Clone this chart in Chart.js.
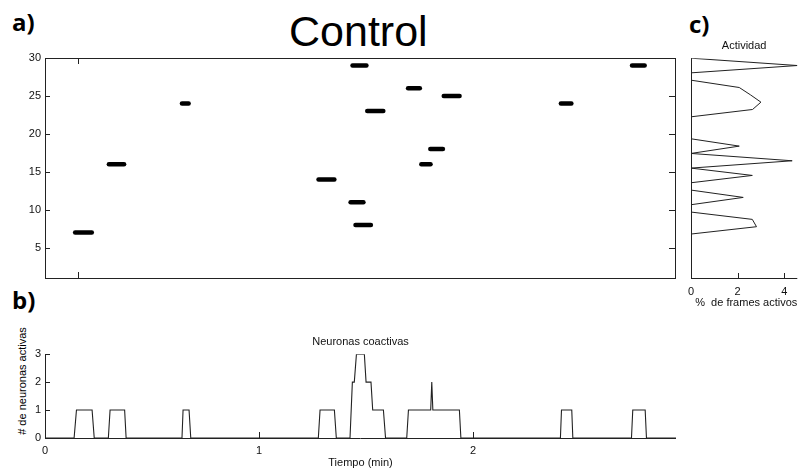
<!DOCTYPE html>
<html>
<head>
<meta charset="utf-8">
<script src="https://cdn.jsdelivr.net/npm/chart.js@4.4.1/dist/chart.umd.min.js"></script>
<style>
  body { margin: 0; background: #fff; }
  #wrap { position: relative; width: 809px; height: 470px; overflow: hidden; font-family: "Liberation Sans", Arial, sans-serif; color: #000; }
  #wrap canvas { position: absolute; }
  .lbl { position: absolute; white-space: nowrap; }
  .panel { font-family: "Open Sans", sans-serif; font-weight: bold; font-size: 24px; line-height: 24px; }
</style>
</head>
<body>
<div id="wrap">
  <div class="lbl panel" style="left:12px; top:10px;">a)</div>
  <div class="lbl panel" style="left:12px; top:288px;">b)</div>
  <div class="lbl panel" style="left:689px; top:12px;">c)</div>
  <div class="lbl" style="left:289px; top:10px; font-size:43px; line-height:43px;">Control</div>
  <div class="lbl" style="left:22px; top:381px; font-size:11px; line-height:11px; transform: translate(-50%,-50%) rotate(-90deg);"># de neuronas activas</div>

  <canvas id="rasterChart" width="690" height="290" style="left:0; top:0;"></canvas>
  <canvas id="coactChart" width="690" height="180" style="left:0; top:290px;"></canvas>
  <canvas id="activityChart" width="129" height="310" style="left:680px; top:0;"></canvas>
</div>

<script>
// a) raster: one bar per activation (neuron, start, end in minutes)
const spikeNeuron = [7, 16, 24, 14, 29, 11, 8, 23, 26, 25, 18, 16, 24, 29];
const spikeStart = [0.141, 0.299, 0.641, 1.280, 1.439, 1.430, 1.453, 1.508, 1.699, 1.866, 1.803, 1.761, 2.414, 2.747];
const spikeEnd   = [0.219, 0.370, 0.672, 1.354, 1.504, 1.490, 1.525, 1.583, 1.754, 1.940, 1.862, 1.804, 2.463, 2.806];
const rasterYTicks = [5, 10, 15, 20, 25, 30];
const rasterXTicks = [0.155];

// b) number of coactive neurons over time
const timeMin = [0, 0.136, 0.147, 0.220, 0.230, 0.296, 0.304, 0.372, 0.379, 0.640, 0.645, 0.673, 0.681,
  1.277, 1.285, 1.352, 1.361, 1.425, 1.436, 1.445, 1.455, 1.492, 1.500, 1.523, 1.531, 1.581, 1.591,
  1.690, 1.698, 1.802, 1.807, 1.812, 1.936, 1.943, 2.408, 2.413, 2.461, 2.466, 2.740, 2.746, 2.804, 2.810, 2.948];
const coactive = [0, 0, 1, 1, 0, 0, 1, 1, 0, 0, 1, 1, 0,
  0, 1, 1, 0, 0, 2, 2, 3, 3, 2, 2, 1, 1, 0,
  0, 1, 1, 2, 1, 1, 0, 0, 1, 1, 0, 0, 1, 1, 0, 0];
const timeTicks = [0, 1, 2];
const coactTicks = [0, 1, 2, 3];

// c) % of active frames per neuron
const neuronIds = [1, 2, 3, 4, 5, 6, 7, 8, 9, 10, 11, 12, 13, 14, 15, 16, 17, 18, 19, 20, 21, 22, 23, 24, 25, 26, 27, 28, 29, 30];
const activityPct = [0, 0, 0, 0, 0, 0, 2.81, 2.63, 0, 0, 2.24, 0, 0, 2.63, 0, 4.34, 0, 2.07, 0, 0, 0, 0, 2.64, 3.0, 2.55, 2.07, 0, 0, 4.56, 0];
const pctTicks = [0, 2, 4];

const TXT = '#111';
const LINE = '#222';
const tickFont = { family: 'Liberation Sans', size: 11 };

// frame lines + inward tick marks, matlab style
function axesDecor(sides, inTicks) {
  return {
    id: 'axesDecor',
    afterDatasetsDraw(chart) {
      const { ctx, chartArea: a, scales } = chart;
      ctx.save();
      ctx.strokeStyle = LINE;
      ctx.lineWidth = 1;
      ctx.beginPath();
      if (sides.includes('top')) { ctx.moveTo(a.left, a.top + 0.5); ctx.lineTo(a.right, a.top + 0.5); }
      if (sides.includes('bottom')) { ctx.moveTo(a.left, a.bottom + 0.5); ctx.lineTo(a.right, a.bottom + 0.5); }
      if (sides.includes('left')) { ctx.moveTo(a.left + 0.5, a.top); ctx.lineTo(a.left + 0.5, a.bottom + 1); }
      if (sides.includes('right')) { ctx.moveTo(a.right + 0.5, a.top); ctx.lineTo(a.right + 0.5, a.bottom + 1); }
      inTicks.forEach(t => {
        const s = scales[t.axis];
        t.values.forEach(v => {
          const p = Math.round(s.getPixelForValue(v)) + 0.5;
          if (t.side === 'bottom') { ctx.moveTo(p, a.bottom); ctx.lineTo(p, a.bottom - t.len); }
          if (t.side === 'top') { ctx.moveTo(p, a.top); ctx.lineTo(p, a.top + t.len); }
          if (t.side === 'left') { ctx.moveTo(a.left, p); ctx.lineTo(a.left + t.len, p); }
          if (t.side === 'right') { ctx.moveTo(a.right, p); ctx.lineTo(a.right - t.len, p); }
        });
      });
      ctx.stroke();
      ctx.restore();
    }
  };
}

const setTicks = vals => scale => { scale.ticks = vals.map(v => ({ value: v })); };

// ---- a) raster
new Chart(document.getElementById('rasterChart'), {
  type: 'scatter',
  data: {
    datasets: spikeNeuron.map((n, i) => ({
      data: [{ x: spikeStart[i], y: n }, { x: spikeEnd[i], y: n }],
      showLine: true,
      borderColor: '#000',
      borderWidth: 4.5,
      borderCapStyle: 'round',
      pointRadius: 0
    }))
  },
  options: {
    responsive: false,
    animation: false,
    layout: { padding: { top: 58, right: 15, bottom: 12, left: 0 } },
    plugins: { legend: { display: false }, tooltip: { enabled: false } },
    scales: {
      x: { type: 'linear', min: 0, max: 2.948, display: false },
      y: {
        min: 1, max: 30,
        afterBuildTicks: setTicks(rasterYTicks),
        afterFit(scale) { scale.width = 45; },
        grid: { display: false, drawTicks: false },
        border: { display: false },
        ticks: { color: TXT, font: tickFont, padding: 4 }
      }
    }
  },
  plugins: [axesDecor(['top', 'bottom', 'left', 'right'], [
    { axis: 'y', side: 'left', values: rasterYTicks, len: 5 },
    { axis: 'y', side: 'right', values: rasterYTicks, len: 6 },
    { axis: 'x', side: 'bottom', values: rasterXTicks, len: 6 },
    { axis: 'x', side: 'top', values: rasterXTicks, len: 6 }
  ])]
});

// ---- b) coactive neurons
new Chart(document.getElementById('coactChart'), {
  type: 'scatter',
  data: {
    datasets: [{
      data: timeMin.map((t, i) => ({ x: t, y: coactive[i] })),
      showLine: true,
      borderColor: LINE,
      borderWidth: 1.1,
      pointRadius: 0
    }]
  },
  options: {
    responsive: false,
    animation: false,
    layout: { padding: { top: 0, right: 14, bottom: 0, left: 0 } },
    plugins: {
      legend: { display: false },
      tooltip: { enabled: false },
      title: {
        display: true, text: 'Neuronas coactivas', fullSize: false, color: TXT,
        font: { family: 'Liberation Sans', size: 11, weight: 'normal' },
        padding: { top: 45, bottom: 6 }
      }
    },
    scales: {
      x: {
        type: 'linear', min: 0, max: 2.948,
        afterBuildTicks: setTicks(timeTicks),
        afterFit(scale) { scale.height = 32; },
        grid: { display: false, drawTicks: false },
        border: { display: false },
        ticks: { color: TXT, font: tickFont, padding: 6 },
        title: { display: true, text: 'Tiempo (min)', color: TXT, font: tickFont, padding: { top: 0, bottom: 0 } }
      },
      y: {
        min: 0, max: 3,
        afterBuildTicks: setTicks(coactTicks),
        afterFit(scale) { scale.width = 45; },
        grid: { display: false, drawTicks: false },
        border: { display: false },
        ticks: { color: TXT, font: tickFont, padding: 4 }
      }
    }
  },
  plugins: [axesDecor(['left', 'bottom'], [
    { axis: 'y', side: 'left', values: coactTicks, len: 5 },
    { axis: 'x', side: 'bottom', values: timeTicks, len: 6 }
  ])]
});

// ---- c) activity per neuron
new Chart(document.getElementById('activityChart'), {
  type: 'scatter',
  data: {
    datasets: [{
      data: neuronIds.map((n, i) => ({ x: activityPct[i], y: n })),
      showLine: true,
      borderColor: LINE,
      borderWidth: 1,
      pointRadius: 0
    }]
  },
  options: {
    responsive: false,
    animation: false,
    layout: { padding: { top: 0, right: 11.7, bottom: 0, left: 11 } },
    plugins: {
      legend: { display: false },
      tooltip: { enabled: false },
      title: {
        display: true, text: 'Actividad', fullSize: false, color: TXT,
        font: { family: 'Liberation Sans', size: 11, weight: 'normal' },
        padding: { top: 39, bottom: 6 }
      }
    },
    scales: {
      x: {
        type: 'linear', min: 0, max: 4.56,
        afterBuildTicks: setTicks(pctTicks),
        afterFit(scale) { scale.height = 32; },
        grid: { display: false, drawTicks: false },
        border: { display: false },
        ticks: { color: TXT, font: tickFont, padding: 7 },
        title: { display: true, text: '%  de frames activos', align: 'end', color: TXT, font: tickFont, padding: { top: 0, bottom: 0 } }
      },
      y: { min: 0, max: 30, display: false }
    }
  },
  plugins: [axesDecor(['left', 'bottom'], [
    { axis: 'x', side: 'bottom', values: pctTicks, len: 5 }
  ])]
});
</script>
</body>
</html>
